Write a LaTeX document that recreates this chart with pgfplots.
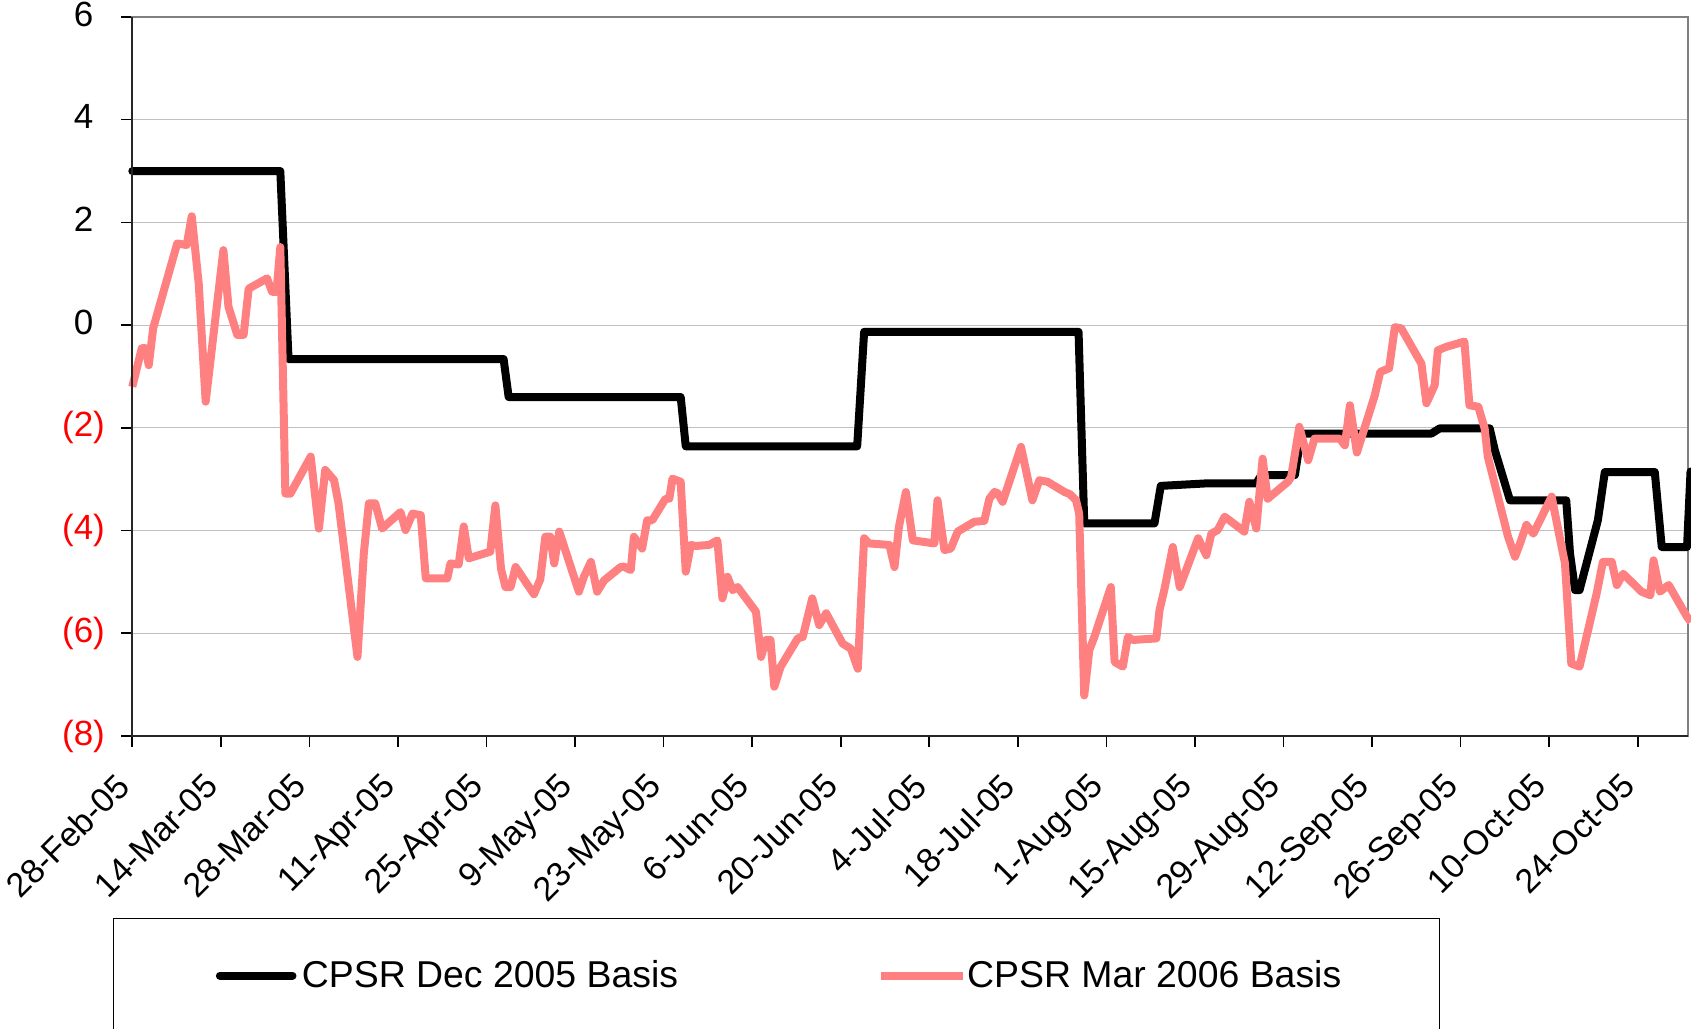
\documentclass[border=0pt]{standalone}
\usepackage{pgfplots}
\pgfplotsset{compat=1.18}
\usepackage{fontspec}
\setmainfont{Liberation Sans}
\definecolor{pinkred}{RGB}{255,128,128}
\definecolor{gridgray}{RGB}{192,192,192}
\definecolor{framegray}{RGB}{128,128,128}
\definecolor{axred}{RGB}{255,0,0}

\pgfplotstableread{
day val
0 3.0
23.4 3.0
24.7 -0.66
58.7 -0.66
59.5 -1.40
86.7 -1.40
87.5 -2.36
114.6 -2.36
115.7 -0.13
149.6 -0.13
150.5 -3.86
161.6 -3.86
162.6 -3.13
170.0 -3.08
177.7 -3.08
178.5 -2.92
183.8 -2.92
184.8 -2.11
205.4 -2.11
206.7 -2.01
214.6 -2.01
215.4 -2.43
217.8 -3.41
226.7 -3.41
227.3 -4.45
228.1 -5.16
228.8 -5.16
231.7 -3.80
232.8 -2.86
240.7 -2.86
241.8 -4.32
245.8 -4.32
246.35 -2.85
}\decdata

\pgfplotstableread{
day val
0 -1.2
1.5 -0.45
2.1 -0.45
2.6 -0.78
3.3 -0.06
7.1 1.59
8.6 1.56
9.4 2.12
10.5 0.81
11.6 -1.49
14.4 1.46
15.2 0.36
16.6 -0.19
17.6 -0.19
18.4 0.71
21.3 0.91
22.1 0.65
22.8 0.65
23.4 1.52
24.2 -3.28
25.0 -3.28
28.2 -2.56
29.5 -3.96
30.5 -2.82
31.9 -3.02
32.6 -3.47
35.6 -6.46
36.6 -4.45
37.4 -3.47
38.4 -3.47
39.5 -3.96
42.4 -3.64
43.2 -3.99
44.3 -3.67
45.6 -3.70
46.4 -4.93
49.8 -4.93
50.3 -4.64
51.6 -4.66
52.4 -3.92
53.2 -4.54
56.6 -4.41
57.4 -3.51
58.3 -4.75
59.0 -5.10
59.8 -5.10
60.6 -4.71
63.5 -5.24
64.5 -4.95
65.3 -4.12
66.1 -4.12
66.7 -4.64
67.5 -4.02
70.6 -5.19
71.4 -4.90
72.5 -4.61
73.5 -5.19
74.6 -4.97
77.2 -4.71
77.7 -4.70
78.8 -4.77
79.3 -4.12
80.6 -4.35
81.4 -3.80
82.2 -3.80
84.3 -3.38
84.9 -3.38
85.4 -2.99
86.7 -3.05
87.5 -4.80
88.3 -4.28
89.1 -4.30
91.2 -4.28
92.5 -4.19
93.3 -5.32
94.1 -4.90
94.9 -5.16
95.7 -5.10
98.6 -5.58
99.4 -6.46
100.2 -6.13
100.9 -6.13
101.5 -7.04
102.5 -6.65
105.2 -6.10
106.0 -6.07
107.5 -5.32
108.6 -5.84
109.7 -5.61
112.3 -6.20
113.6 -6.30
114.7 -6.69
115.7 -4.15
116.5 -4.25
119.7 -4.28
120.5 -4.71
121.2 -3.93
122.3 -3.25
123.4 -4.19
126.8 -4.25
127.3 -3.41
128.4 -4.38
129.4 -4.35
130.5 -4.02
133.1 -3.83
134.7 -3.81
135.5 -3.38
136.3 -3.25
136.8 -3.27
137.6 -3.44
140.5 -2.37
142.3 -3.41
143.4 -3.02
144.7 -3.05
147.4 -3.25
148.2 -3.29
149.2 -3.41
149.7 -3.67
150.5 -7.21
151.3 -6.33
152.1 -6.07
154.7 -5.10
155.3 -6.56
156.6 -6.65
157.4 -6.07
158.2 -6.13
161.9 -6.10
162.4 -5.55
163.2 -5.13
164.5 -4.32
165.6 -5.10
168.5 -4.15
169.8 -4.48
170.6 -4.06
171.6 -3.99
172.7 -3.73
175.8 -4.02
176.6 -3.44
177.7 -3.96
178.7 -2.60
179.5 -3.38
182.7 -3.05
183.2 -2.96
184.5 -1.98
185.9 -2.63
186.9 -2.21
190.9 -2.21
191.7 -2.34
192.5 -1.56
193.6 -2.48
196.4 -1.38
197.3 -0.91
198.7 -0.84
199.6 -0.04
200.6 -0.06
203.8 -0.75
204.6 -1.52
205.9 -1.17
206.4 -0.49
207.8 -0.42
210.6 -0.32
211.4 -1.56
212.8 -1.59
213.8 -2.01
214.3 -2.56
217.5 -4.12
218.6 -4.51
219.4 -4.25
220.4 -3.89
221.5 -4.06
224.4 -3.34
225.7 -4.15
226.5 -4.64
227.5 -6.59
228.8 -6.65
231.5 -5.23
232.5 -4.61
233.9 -4.61
234.7 -5.06
235.7 -4.84
238.6 -5.19
240.0 -5.26
240.5 -4.58
241.5 -5.19
242.9 -5.06
245.8 -5.68
246.4 -5.78
}\mardata

\begin{document}
\begin{tikzpicture}
\begin{axis}[
  scale only axis,
  width=778pt, height=359.5pt,
  xmin=0, xmax=246,
  ymin=-8, ymax=6,
  clip=false,
  axis line style={draw=framegray, line width=1pt},
  ytick={-8,-6,-4,-2,0,2,4,6},
  yticklabels={{\color{axred}(8)},{\color{axred}(6)},{\color{axred}(4)},{\color{axred}(2)},{0\phantom{)}},{2\phantom{)}},{4\phantom{)}},{6\phantom{)}}},
  xtick={0,14,28,42,56,70,84,98,112,126,140,154,168,182,196,210,224,238},
  xticklabels={28-Feb-05,14-Mar-05,28-Mar-05,11-Apr-05,25-Apr-05,9-May-05,23-May-05,6-Jun-05,20-Jun-05,4-Jul-05,18-Jul-05,1-Aug-05,15-Aug-05,29-Aug-05,12-Sep-05,26-Sep-05,10-Oct-05,24-Oct-05},
  xtick pos=bottom, ytick pos=left,
  tick align=outside,
  major tick length=5.5pt,
  tick style={black, line width=0.8pt},
  ymajorgrids,
  major grid style={draw=gridgray, line width=0.6pt},
  yticklabel style={font=\fontsize{17.5}{20}\selectfont, anchor=east, inner sep=0pt, xshift=-8pt},
  xticklabel style={font=\fontsize{17}{20}\selectfont, inner sep=0pt, xshift=-9pt, yshift=-12pt, rotate=45, anchor=north east},
  legend image code/.code={\draw[#1] (0pt,0pt) -- (41pt,0pt);},
  legend columns=2,
  legend style={at={(axis description cs:0,0)}, anchor=north west, xshift=-9.5pt, yshift=-91pt,
    draw=black, line width=0.6pt, inner xsep=49pt, inner ysep=21pt,
    font=\fontsize{18.7}{22}\selectfont,
    nodes={inner sep=0pt},
    /tikz/every odd column/.append style={column sep=0pt},
    /tikz/every even column/.append style={column sep=99.5pt},
    cells={anchor=west}},
]
\addplot[black, line width=4pt, line join=round, line cap=round,
  legend image post style={shorten <=2pt, shorten >=2.7pt}]
  table[x=day,y=val] {\decdata};
\addlegendentry{CPSR Dec 2005 Basis}
\addplot[pinkred, line width=4pt, line join=round]
  table[x=day,y=val] {\mardata};
\addlegendentry{CPSR Mar 2006 Basis}
\draw[black!85, line width=1pt] (rel axis cs:0,1) -- (rel axis cs:0,0) -- (rel axis cs:1,0);
\end{axis}
\pgfresetboundingbox
\path[use as bounding box] ([shift={(-66.15pt,-146pt)}]current axis.south west) rectangle ([shift={(779.35pt,368pt)}]current axis.south west);
\end{tikzpicture}
\end{document}
